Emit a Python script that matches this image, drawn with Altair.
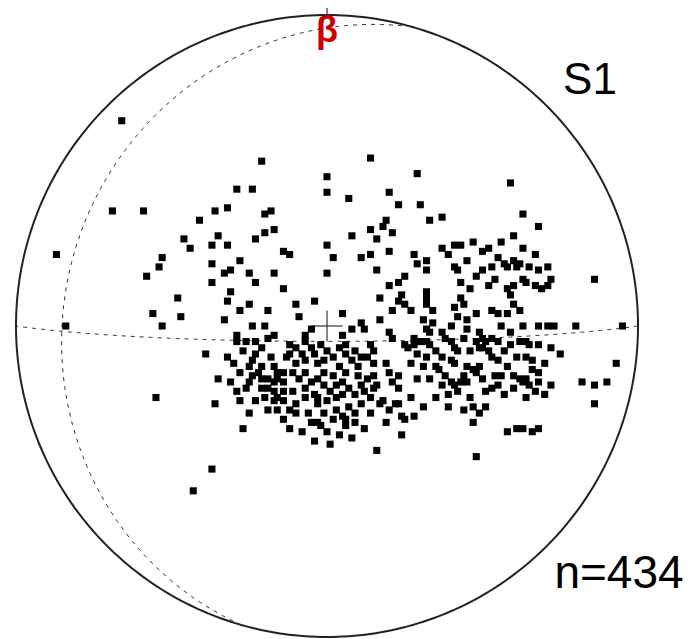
import altair as alt
import pandas as pd
import numpy as np

# Pole positions on the net, in percent of the net radius (east, north)
east = [-66,-69,-59,-87,-54,-58,-21,-29,-24,-36,-32,-41,-20,-18,-46,-44,-35,-37,-32,-23,
        -20,-17,-53,-37,-28,-33,-31,-25,-17,-37,-31,-23,-48,-32,-25,14,0,0,7,20,
        23,19,18,14,16,21,8,0,-14,-12,2,11,14,20,0,16,20,23,-14,17,
        23,-10,-4,29,59,30,33,37,63,60,56,37,41,43,39,50,28,29,32,32,
        25,41,42,50,53,57,58,60,61,54,43,46,52,58,60,59,32,24,32,43,
        44,25,60,32,68,67,62,68,71,63,64,67,69,72,71,86,-56,-84,-55,-47,
        -53,-33,-28,-19,-24,-20,-29,-29,-26,-23,-19,-17,-39,-32,-23,-21,-24,-25,-21,-18,
        -17,-16,-35,-24,-25,-21,-19,-17,-16,-29,-26,-21,-17,-16,-17,-28,-36,-25,-27,-37,
        -43,-9,5,11,12,8,17,21,-5,-7,5,20,21,-12,-10,-7,-5,-2,0,4,
        6,14,15,-13,-10,-7,-3,2,4,8,10,13,15,19,-14,-14,-7,-5,-1,2,
        5,6,10,11,15,16,20,21,-14,-11,-4,-3,1,3,5,12,18,22,-14,-10,
        -10,-3,-1,3,7,9,11,17,20,-3,-2,12,-8,0,4,6,6,19,16,27,
        34,31,34,32,33,41,42,48,45,45,40,49,53,55,58,56,59,25,26,28,
        28,30,32,33,38,40,41,42,48,50,51,53,55,49,50,59,29,32,27,37,
        40,41,35,36,38,45,47,49,53,55,58,29,40,41,43,44,48,50,54,56,
        53,57,23,23,27,35,39,46,47,49,51,23,24,25,28,24,58,61,48,62,
        63,68,71,73,80,95,64,65,62,68,72,75,64,66,66,68,64,63,65,68,
        62,70,64,82,86,90,93,86,63,66,68,
        -12,-8,-4,-1,6,9,11,-11,-9,-3,-1,3,7,9,13,14,-7,-7,-12,-6,
        -5,0,5,9,14,15,-16,2,-20,-19,-14,-12,8,1,-4,
        37,44,46,52,57,35,31,33,37,42,45,51,55,60,61,44,39,31,47,
        45,48,55,63,65,47,52,
        70,72,67,60,
        -27,-30,-28,-22,-31,-19,-23]
north = [66,37,37,23,19,16,53,44,44,37,38,34,36,37,28,25,29,26,26,28,
         30,31,22,20,21,17,18,17,17,14,11,14,9,8,7,54,48,43,41,43,
         39,34,32,31,28,30,29,26,24,23,22,22,23,24,17,18,13,14,12,9,
         8,7,8,49,46,39,34,35,36,29,27,25,26,26,23,24,23,20,21,18,
         16,19,18,18,19,20,19,21,19,15,14,12,13,12,13,10,11,10,9,9,
         7,7,7,7,32,23,20,18,19,15,14,13,12,15,13,15,4,0,-23,3,
         0,2,5,5,0,0,-3,-5,-5,-5,-4,-3,-9,-10,-9,-7,-11,-13,-13,-10,
         -13,-15,-17,-16,-18,-17,-17,-18,-17,-21,-20,-20,-21,-23,-24,-24,-25,-28,-33,-46,
         -53,3,4,1,-1,-1,2,5,-1,-3,-3,-2,-4,-6,-7,-5,-7,-6,-8,-7,
         -6,-6,-8,-10,-12,-11,-12,-10,-13,-11,-13,-10,-12,-12,-15,-18,-15,-18,-15,-16,
         -18,-15,-16,-19,-16,-19,-15,-18,-21,-21,-22,-23,-21,-23,-22,-21,-24,-25,-24,-25,
         -28,-25,-28,-27,-26,-28,-25,-25,-27,-31,-32,-33,-34,-34,-35,-30,-32,-31,-40,5,
         5,2,1,-1,-2,6,3,4,2,-1,0,-2,5,4,4,0,-2,-6,-7,-4,
         -6,-5,-5,-6,-4,-5,-7,-8,-5,-4,-5,-4,-5,-7,-7,-6,-9,-10,-12,-10,
         -11,-12,-13,-14,-16,-13,-14,-13,-10,-11,-13,-17,-18,-19,-18,-16,-15,-17,-16,-16,
         -20,-22,-16,-20,-23,-23,-22,-23,-26,-28,-26,-25,-29,-30,-29,-35,-34,-33,-42,5,
         0,0,0,0,0,0,-5,-6,-5,-6,-7,-9,-10,-11,-14,-15,-17,-18,-19,-18,
         -17,-22,-23,-18,-19,-18,-12,-25,-33,-34,-33,
         -9,-9,-9,-11,-9,-8,-10,-15,-17,-17,-19,-19,-20,-22,-17,-23,-20,-23,-27,-28,
         -31,-24,-29,-31,-28,-20,-27,-30,-23,-27,-30,-33,-36,-38,-37,
         -2,-4,-8,-8,-8,-8,-13,-17,-19,-21,-18,-21,-19,-16,-10,-27,-26,-26,-31,
         21,16,22,25,19,27,25,
         -12,-19,-21,-20,
         -8,-12,-15,-15,-18,-20,-24]

# Great circles drawn on the net: dip direction and dip (degrees)
gc_dipdir = [286, 180]
gc_dip = [16.5, 86]

labels = {"title": "S1", "count": "n=434", "axis": "β"}

pts = pd.DataFrame({"e": east, "n": north})

# equal-area (Schmidt) lower hemisphere projection, radius = 100
def project(trend_deg, plunge_deg):
    r = 100 * np.sqrt(2) * np.sin(np.radians(90 - plunge_deg) / 2)
    t = np.radians(trend_deg)
    return r * np.sin(t), r * np.cos(t)

rows = []
for k, (dd, dip) in enumerate(zip(gc_dipdir, gc_dip)):
    s = np.array([np.sin(np.radians(dd - 90)), np.cos(np.radians(dd - 90)), 0.0])
    d = np.array([np.cos(np.radians(dip)) * np.sin(np.radians(dd)),
                  np.cos(np.radians(dip)) * np.cos(np.radians(dd)),
                  np.sin(np.radians(dip))])
    for i, tt in enumerate(np.linspace(0, np.pi, 181)):
        v = np.cos(tt) * s + np.sin(tt) * d
        pl = np.degrees(np.arcsin(np.clip(v[2], -1, 1)))
        tr = np.degrees(np.arctan2(v[0], v[1]))
        x, y = project(tr, pl)
        rows.append({"id": k, "i": i, "e": x, "n": y})
gc = pd.DataFrame(rows)

ang = np.linspace(0, 360, 361)
prim = pd.DataFrame({"i": np.arange(361), "e": 100 * np.sin(np.radians(ang)),
                     "n": 100 * np.cos(np.radians(ang))})

cross = pd.DataFrame({"id": [0, 0, 1, 1, 2, 2], "e": [-5, 5, 0, 0, 0, 0],
                      "n": [0, 0, -5, 5, 100, 103]})

W, H = 684, 631
U = 3.11
cx, cy = 319, 318
xs = alt.Scale(domain=[-cx / U, (W - cx) / U], nice=False, zero=False)
ys = alt.Scale(domain=[-(H - cy) / U, cy / U], nice=False, zero=False)
X = alt.X("e:Q", scale=xs, axis=None)
Y = alt.Y("n:Q", scale=ys, axis=None)

prim_layer = alt.Chart(prim).mark_line(color="#222222", strokeWidth=2).encode(x=X, y=Y, order="i:Q")
gc_layer = alt.Chart(gc).mark_line(color="#333333", strokeWidth=1, strokeDash=[4, 5]).encode(
    x=X, y=Y, detail="id:N", order="i:Q")
cross_layer = alt.Chart(cross).mark_line(color="#333333", strokeWidth=1.2).encode(
    x=X, y=Y, detail="id:N")
pts_layer = alt.Chart(pts).mark_square(size=50, color="black", opacity=1).encode(x=X, y=Y)

def txt(s, x, y, size, color="black", weight="normal", align="center"):
    return alt.Chart(pd.DataFrame({"t": [s]})).mark_text(
        fontSize=size, font="Liberation Sans", color=color, fontWeight=weight,
        align=align, baseline="alphabetic").encode(
        x=alt.value(x), y=alt.value(y), text="t:N")

chart = alt.layer(
    prim_layer, gc_layer, cross_layer, pts_layer,
    txt(labels["axis"], 319, 34, 36, color="#cc0000", weight="bold"),
    txt(labels["title"], 582, 86, 44),
    txt(labels["count"], 611, 580, 46),
).properties(width=W, height=H, padding=0, autosize="none").configure_view(stroke=None)

chart.save("out.html", embed_options={"renderer": "svg", "actions": False})
